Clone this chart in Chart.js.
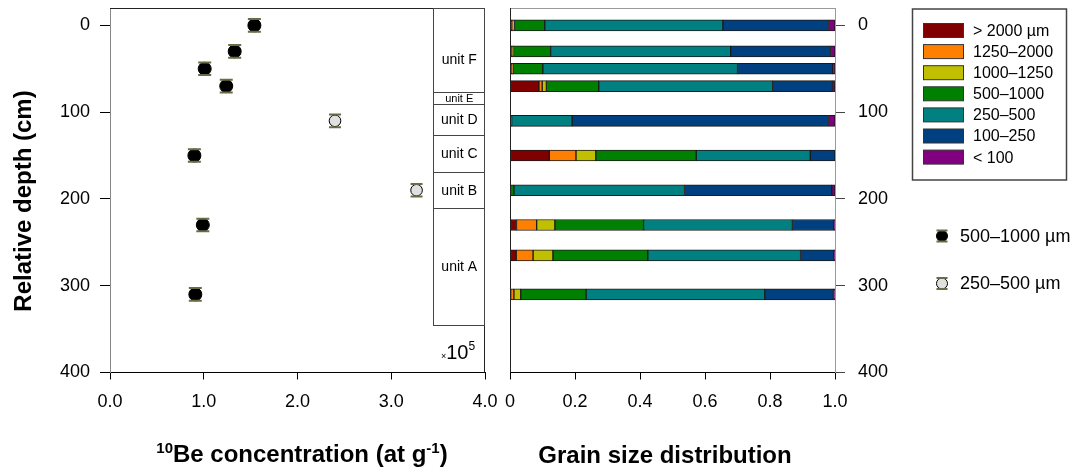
<!DOCTYPE html>
<html>
<head>
<meta charset="utf-8">
<script src="https://cdn.jsdelivr.net/npm/chart.js@4"></script>
<style>
  body { margin: 0; background: #fff; }
  #wrap { position: relative; width: 1077px; height: 474px; }
  #wrap canvas { position: absolute; left: 0; top: 0; }
</style>
</head>
<body>
<div id="wrap">
  <canvas id="beChart" width="1077" height="474"></canvas>
  <canvas id="grainChart" width="1077" height="474"></canvas>
</div>
<script>
// 10Be data (x in 10^5 at/g, depth in cm)
const beDepth500 = [0, 30, 50, 70, 150, 230, 310];
const beConc500 = [1.54, 1.33, 1.01, 1.24, 0.90, 0.99, 0.91];
const depthErr500 = [7.3, 7.3, 7.3, 7.3, 7.3, 7.3, 7.3];
const beDepth250 = [110, 190];
const beConc250 = [2.40, 3.27];
const depthErr250 = [7.3, 7.3];

// stratigraphic units
const units = ['unit F', 'unit E', 'unit D', 'unit C', 'unit B', 'unit A'];
const unitTop = [-20, 77, 91, 126, 169, 211];
const unitBottom = [77, 91, 126, 169, 211, 345];
const unitColLeft = 3.45;

// grain size fractions per sample depth
const grainDepths = [0, 30, 50, 70, 110, 150, 190, 230, 265, 310];
const grainClasses = ['> 2000 µm', '1250–2000', '1000–1250', '500–1000', '250–500', '100–250', '< 100'];
const grainColors = ['#800000', '#ff8000', '#c0c000', '#008000', '#008080', '#004080', '#800080'];
const gt2000 = [0.005, 0.005, 0.006, 0.089, 0, 0.121, 0, 0.020, 0.019, 0.002];
const f1250 = [0.003, 0.002, 0.002, 0.010, 0, 0.082, 0, 0.062, 0.052, 0.010];
const f1000 = [0.006, 0.004, 0.002, 0.013, 0, 0.061, 0, 0.056, 0.061, 0.021];
const f500 = [0.093, 0.114, 0.091, 0.161, 0.005, 0.309, 0.012, 0.273, 0.292, 0.201];
const f250 = [0.548, 0.554, 0.599, 0.535, 0.186, 0.351, 0.525, 0.458, 0.470, 0.550];
const f100 = [0.325, 0.307, 0.293, 0.184, 0.789, 0.076, 0.453, 0.128, 0.103, 0.211];
const lt100 = [0.020, 0.014, 0.007, 0.008, 0.020, 0, 0.010, 0.003, 0.003, 0.005];
const grainSeries = [gt2000, f1250, f1000, f500, f250, f100, lt100];

const depthTicks = [0, 100, 200, 300, 400];

const FONT = 'Arial, "Liberation Sans", sans-serif';
const capColor = '#6b6b45';

// draws text made of pieces (for superscripts), centred on cx
function drawParts(ctx, parts, cx, y) {
    let w = 0;
    parts.forEach(p => { ctx.font = p.font; w += ctx.measureText(p.text).width; });
    let x = cx - w / 2;
    ctx.textAlign = 'left';
    ctx.textBaseline = 'alphabetic';
    parts.forEach(p => {
        ctx.font = p.font;
        ctx.fillText(p.text, x, y - (p.rise || 0));
        x += ctx.measureText(p.text).width;
    });
}

function drawCaps(ctx, px, y1, y2, half) {
    ctx.strokeStyle = capColor;
    ctx.lineWidth = 2;
    ctx.beginPath();
    ctx.moveTo(px - half, y1); ctx.lineTo(px + half, y1);
    ctx.moveTo(px - half, y2); ctx.lineTo(px + half, y2);
    ctx.stroke();
}

function drawMarker(ctx, px, py, r, fill) {
    ctx.beginPath();
    ctx.arc(px, py, r, 0, Math.PI * 2);
    ctx.fillStyle = fill;
    ctx.fill();
    ctx.lineWidth = 1;
    ctx.strokeStyle = '#000';
    ctx.stroke();
    drawCaps(ctx, px, py - r, py + r, r);
}

// fixed axis boxes so that both plot areas line up
const fixDepthTicks = scale => { scale.ticks = depthTicks.map(v => ({ value: v })); };
const fitY = w => s => { s.width = w; s.paddingTop = 0; s.paddingBottom = 0; };
const fitX = s => { s.height = 101.5; s.paddingLeft = 0; s.paddingRight = 0; };

// Grafico 10Be
const beExtras = {
    id: 'beExtras',
    afterDatasetsDraw(chart) {
        const { ctx, scales: { x, y } } = chart;
        ctx.save();
        [[beConc500, beDepth500, depthErr500, 6.5], [beConc250, beDepth250, depthErr250, 6]].forEach(([xs, ds, es, half]) => {
            xs.forEach((v, i) => {
                const px = x.getPixelForValue(v);
                drawCaps(ctx, px, y.getPixelForValue(ds[i] - es[i]), y.getPixelForValue(ds[i] + es[i]), half);
            });
        });
        ctx.restore();
    },
    afterDraw(chart) {
        const { ctx, chartArea: a, scales: { x, y } } = chart;
        ctx.save();
        // frame top + right
        ctx.strokeStyle = '#222';
        ctx.lineWidth = 1;
        ctx.beginPath();
        ctx.moveTo(a.left, a.top + 0.5); ctx.lineTo(a.right, a.top + 0.5);
        ctx.moveTo(a.right - 0.5, a.top); ctx.lineTo(a.right - 0.5, a.bottom);
        ctx.stroke();

        // units column
        const ul = Math.round(x.getPixelForValue(unitColLeft)) + 0.5;
        ctx.strokeStyle = '#444';
        ctx.fillStyle = '#000';
        ctx.textAlign = 'center';
        ctx.textBaseline = 'middle';
        units.forEach((u, i) => {
            const t = Math.round(y.getPixelForValue(unitTop[i])) + 0.5;
            const b = Math.round(y.getPixelForValue(unitBottom[i])) + 0.5;
            ctx.strokeRect(ul, t, a.right - 0.5 - ul, b - t);
            const mid = y.getPixelForValue((Math.max(unitTop[i], 0) + unitBottom[i]) / 2);
            ctx.font = (unitBottom[i] - unitTop[i] < 20 ? '11px ' : '14px ') + FONT;
            ctx.fillText(u, (ul + a.right) / 2, mid + 1);
        });

        // x10^5
        ctx.fillStyle = '#000';
        drawParts(ctx, [
            { text: '×', font: '9px ' + FONT },
            { text: '10', font: '20px ' + FONT },
            { text: '5', font: '12px ' + FONT, rise: 9 }
        ], 458, 359);

        // titles
        drawParts(ctx, [
            { text: '10', font: 'bold 15px ' + FONT, rise: 9 },
            { text: 'Be concentration (at g', font: 'bold 24px ' + FONT },
            { text: '-1', font: 'bold 15px ' + FONT, rise: 9 },
            { text: ')', font: 'bold 24px ' + FONT }
        ], 302, 462);
        ctx.save();
        ctx.translate(24, 201);
        ctx.rotate(-Math.PI / 2);
        ctx.font = 'bold 24px ' + FONT;
        ctx.textAlign = 'center';
        ctx.textBaseline = 'middle';
        ctx.fillText('Relative depth (cm)', 0, 0);
        ctx.restore();

        // legenda punti
        chart.data.datasets.forEach((ds, i) => {
            const ly = 236 + i * 47.5;
            drawMarker(ctx, 942, ly, 5.5, ds.backgroundColor);
            ctx.fillStyle = '#000';
            ctx.font = '18px ' + FONT;
            ctx.textAlign = 'left';
            ctx.textBaseline = 'middle';
            ctx.fillText(ds.label, 960, ly + 1);
        });
        ctx.restore();
    }
};

new Chart(document.getElementById('beChart'), {
    type: 'scatter',
    data: {
        datasets: [{
            label: '500–1000 µm',
            data: beConc500.map((v, i) => ({ x: v, y: beDepth500[i] })),
            backgroundColor: '#000',
            borderColor: '#000',
            borderWidth: 1,
            pointRadius: 6.5
        }, {
            label: '250–500 µm',
            data: beConc250.map((v, i) => ({ x: v, y: beDepth250[i] })),
            backgroundColor: '#e0e0e0',
            borderColor: '#000',
            borderWidth: 1,
            pointRadius: 5.8
        }]
    },
    options: {
        responsive: false,
        animation: false,
        layout: { padding: { left: 0, right: 592, top: 8, bottom: 0 } },
        plugins: { legend: { display: false }, tooltip: { enabled: false } },
        scales: {
            x: {
                type: 'linear', min: 0, max: 4,
                afterFit: fitX,
                ticks: { stepSize: 1, callback: v => v.toFixed(1), color: '#000', font: { family: FONT, size: 18 }, padding: 12, maxRotation: 0 },
                grid: { drawOnChartArea: false, tickLength: 7, color: '#000' },
                border: { color: '#000' }
            },
            y: {
                type: 'linear', min: -20, max: 400, reverse: true,
                afterFit: fitY(110),
                afterBuildTicks: fixDepthTicks,
                ticks: { color: '#000', font: { family: FONT, size: 18 }, padding: 10 },
                grid: { drawOnChartArea: false, tickLength: 10, color: '#000' },
                border: { color: '#888' }
            }
        }
    },
    plugins: [beExtras]
});

// Grafico granulometria
const grainExtras = {
    id: 'grainExtras',
    afterDraw(chart) {
        const { ctx, chartArea: a } = chart;
        ctx.save();
        ctx.lineWidth = 1;
        ctx.strokeStyle = '#999';
        ctx.beginPath();
        ctx.moveTo(a.left, a.top + 0.5); ctx.lineTo(a.right, a.top + 0.5);
        ctx.stroke();
        ctx.strokeStyle = '#222';
        ctx.beginPath();
        ctx.moveTo(a.left + 0.5, a.top); ctx.lineTo(a.left + 0.5, a.bottom);
        ctx.stroke();

        ctx.fillStyle = '#000';
        drawParts(ctx, [{ text: 'Grain size distribution', font: 'bold 24px ' + FONT }], 665, 463);

        // legenda classi
        ctx.strokeStyle = '#444';
        ctx.lineWidth = 1.5;
        ctx.strokeRect(912.5, 9, 154, 171);
        ctx.lineWidth = 1;
        grainClasses.forEach((c, i) => {
            const ly = 30.5 + i * 21.1;
            ctx.fillStyle = grainColors[i];
            ctx.fillRect(923.5, ly - 7, 40, 14);
            ctx.strokeStyle = '#333';
            ctx.strokeRect(923.5, ly - 7, 40, 14);
            ctx.fillStyle = '#000';
            ctx.font = '16px ' + FONT;
            ctx.textAlign = 'left';
            ctx.textBaseline = 'middle';
            ctx.fillText(c, 973, ly + 1);
        });
        ctx.restore();
    }
};

new Chart(document.getElementById('grainChart'), {
    type: 'bar',
    data: {
        datasets: grainSeries.map((arr, k) => ({
            label: grainClasses[k],
            data: arr.map((v, i) => ({ x: v, y: grainDepths[i] })),
            backgroundColor: grainColors[k],
            borderColor: '#1a1a1a',
            borderWidth: 1,
            borderSkipped: false,
            barThickness: 11
        }))
    },
    options: {
        responsive: false,
        animation: false,
        indexAxis: 'y',
        layout: { padding: { left: 510, right: 167, top: 8, bottom: 0 } },
        plugins: { legend: { display: false }, tooltip: { enabled: false } },
        scales: {
            x: {
                type: 'linear', min: 0, max: 1, stacked: true,
                afterFit: fitX,
                ticks: { stepSize: 0.2, callback: v => v === 0 ? '0' : v.toFixed(1), color: '#000', font: { family: FONT, size: 18 }, padding: 12, maxRotation: 0 },
                grid: { drawOnChartArea: false, tickLength: 7, color: '#000' },
                border: { color: '#000' }
            },
            y: {
                type: 'linear', position: 'right', min: -20, max: 400, reverse: true, stacked: true, offset: false,
                afterFit: fitY(75),
                afterBuildTicks: fixDepthTicks,
                ticks: { color: '#000', font: { family: FONT, size: 18 }, padding: 13 },
                grid: { drawOnChartArea: false, offset: false, tickLength: 10, color: '#444' },
                border: { color: '#999' }
            }
        }
    },
    plugins: [grainExtras]
});
</script>
</body>
</html>
